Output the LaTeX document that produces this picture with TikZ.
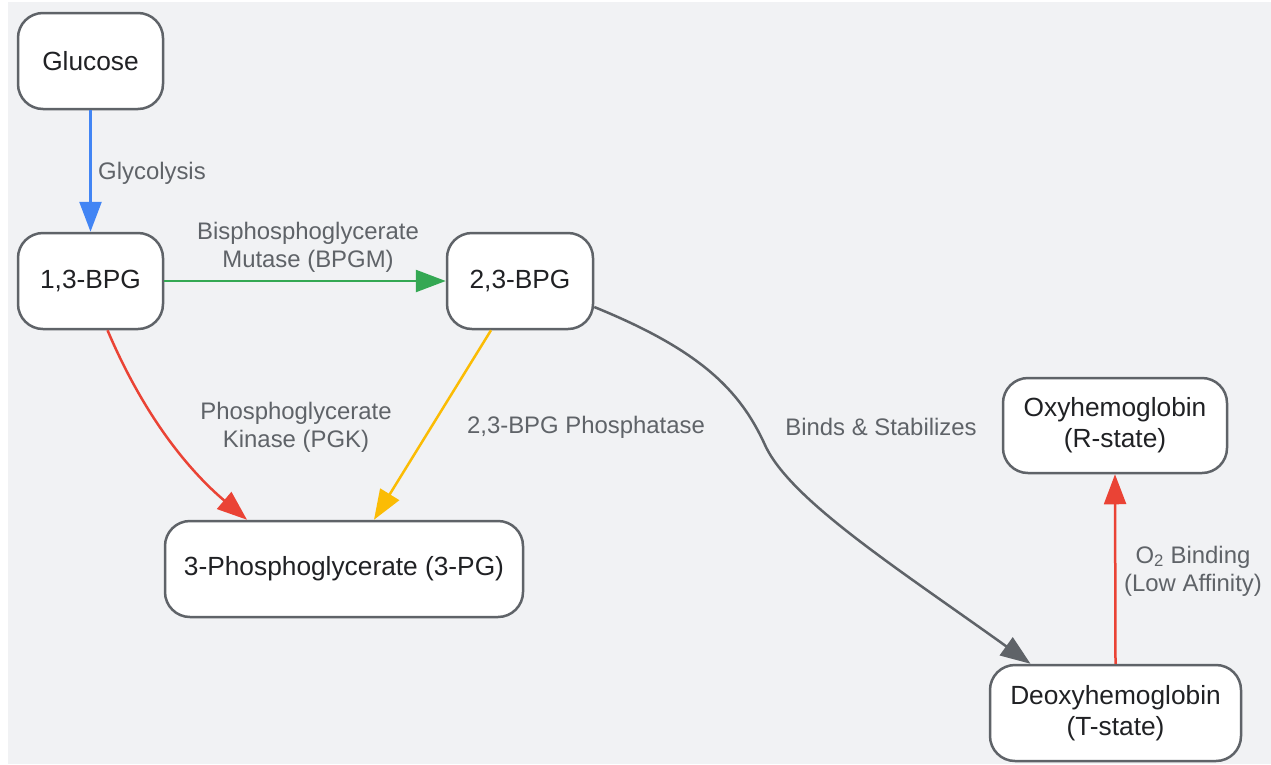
\documentclass[tikz,border=0pt]{standalone}
\usepackage{fontspec}
\setmainfont{Liberation Sans}
\usetikzlibrary{arrows.meta}
\definecolor{bgc}{HTML}{F1F2F4}
\definecolor{edgegray}{HTML}{5F6368}
\definecolor{txtdark}{HTML}{202124}
\definecolor{gblue}{HTML}{4285F4}
\definecolor{ggreen}{HTML}{34A853}
\definecolor{gred}{HTML}{EA4335}
\definecolor{gyellow}{HTML}{FBBC04}
\tikzset{
  box/.style={draw=edgegray, line width=2.5pt, fill=white, rounded corners=25pt,
    text=txtdark, font=\fontsize{26.3}{31}\selectfont, align=center,
    inner sep=0pt, minimum height=96pt},
  lbl/.style={text=edgegray, font=\fontsize{23.9}{28}\selectfont, align=center, inner sep=0pt},
  conn/.style={line width=2.5pt, -{Triangle[length=30pt,width=22pt]}},
}
\begin{document}
\begin{tikzpicture}[x=1pt,y=-1pt]
\useasboundingbox (0,0) rectangle (1271,764);
\fill[bgc] (8,2) rectangle (1271,764);
\node[box, minimum width=145pt] (glu) at (90.5,61) {Glucose};
\node[box, minimum width=145pt] (b13) at (90.5,281) {1,3-BPG};
\node[box, minimum width=146pt] (b23) at (520,281) {2,3-BPG};
\node[box, minimum width=358pt] (pg3) at (344,569) {3-Phosphoglycerate (3-PG)};
\node[box, minimum width=224pt, minimum height=95pt] (oxy) at (1115,425.5) {Oxyhemoglobin\\(R-state)};
\node[box, minimum width=251pt] (deoxy) at (1115.5,713) {Deoxyhemoglobin\\(T-state)};

\node[lbl, anchor=west] (lglyc) at (98,173) {Glycolysis};
\node[lbl] (lbpgm) at (308,247) {Bisphosphoglycerate\\Mutase (BPGM)};
\node[lbl] (lpgk) at (296,427) {Phosphoglycerate\\Kinase (PGK)};
\node[lbl] (lphos) at (586,427) {2,3-BPG Phosphatase};
\node[lbl] (lbind) at (881,427) {Binds \& Stabilizes};
\node[lbl] (lo2) at (1193,571) {O\textsubscript{2} Binding\\(Low Affinity)};

\draw[conn, gblue] (glu.south) -- (b13.north);
\draw[conn, ggreen] (b13.east) -- (b23.west);
\draw[conn, gred] ([xshift=17pt]b13.south) .. controls (150,430) and (200,480) .. ([xshift=-97pt]pg3.north);
\draw[conn, gyellow] ([xshift=-29pt]b23.south) -- ([xshift=30pt]pg3.north);
\draw[conn, edgegray] ([yshift=-26pt]b23.east) .. controls (700,350) and (740,390) .. (765,445)
  .. controls (790,500) and (900,570) .. ([xshift=-85pt]deoxy.north);
\draw[conn, gred] (deoxy.north) -- (oxy.south);
\end{tikzpicture}
\end{document}
